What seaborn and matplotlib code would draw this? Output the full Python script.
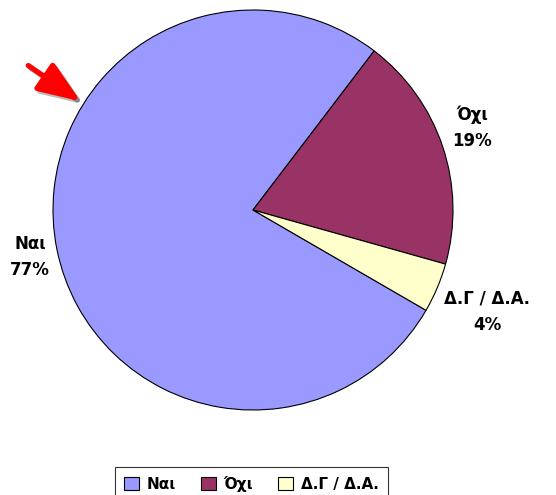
import matplotlib
matplotlib.use("Agg")
import matplotlib.pyplot as plt
import matplotlib.patheffects as pe
import seaborn as sns

# data
labels = ["Ναι", "Όχι", "Δ.Γ / Δ.Α."]
shares = [77, 19, 4]
colors = ["#9999FF", "#993366", "#FFFFCC"]

sns.set_theme(style="white")
plt.rcParams["font.family"] = ["DejaVu Sans"]
plt.rcParams["text.color"] = "black"

fig = plt.figure(figsize=(5.56, 4.95), dpi=100)
ax = fig.add_axes([53 / 556, 85 / 495, 400 / 556, 400 / 495])

wedges, _ = ax.pie(shares, colors=colors, startangle=-30.1, counterclock=False,
                   radius=1, wedgeprops=dict(edgecolor="black", linewidth=0.8))
ax.set_xlim(-1, 1)
ax.set_ylim(-1, 1)
ax.set_aspect("equal")
ax.axis("off")

# slice labels
label_pos = [(-1.115, -0.235), (1.095, 0.41), (1.17, -0.51)]
for lab, val, (x, y) in zip(labels, shares, label_pos):
    ax.text(x, y, f"{lab}\n{val}%", ha="center", va="center", fontsize=12,
            fontweight="bold", color="black", linespacing=1.6, clip_on=False)

# legend
leg = fig.legend(wedges, labels, loc="upper center", bbox_to_anchor=(0.452, 1 - 459 / 495),
                 ncol=3, frameon=True, fancybox=False, edgecolor="black",
                 handlelength=1.0, handleheight=1.0, handletextpad=0.5, columnspacing=1.6,
                 borderpad=0.6, prop={"weight": "bold", "size": 11})
leg.get_frame().set_linewidth(0.8)

# red arrow
ax.annotate("", xy=(83, 392), xytext=(26, 431), xycoords="figure pixels",
            textcoords="figure pixels",
            arrowprops=dict(arrowstyle="-|>,head_length=1.3,head_width=0.5", lw=3.8,
                            color="red", mutation_scale=20,
                            path_effects=[pe.SimpleLineShadow(offset=(2, -2), alpha=0.3),
                                          pe.Normal()]))

fig.savefig("out.png", dpi=100)
